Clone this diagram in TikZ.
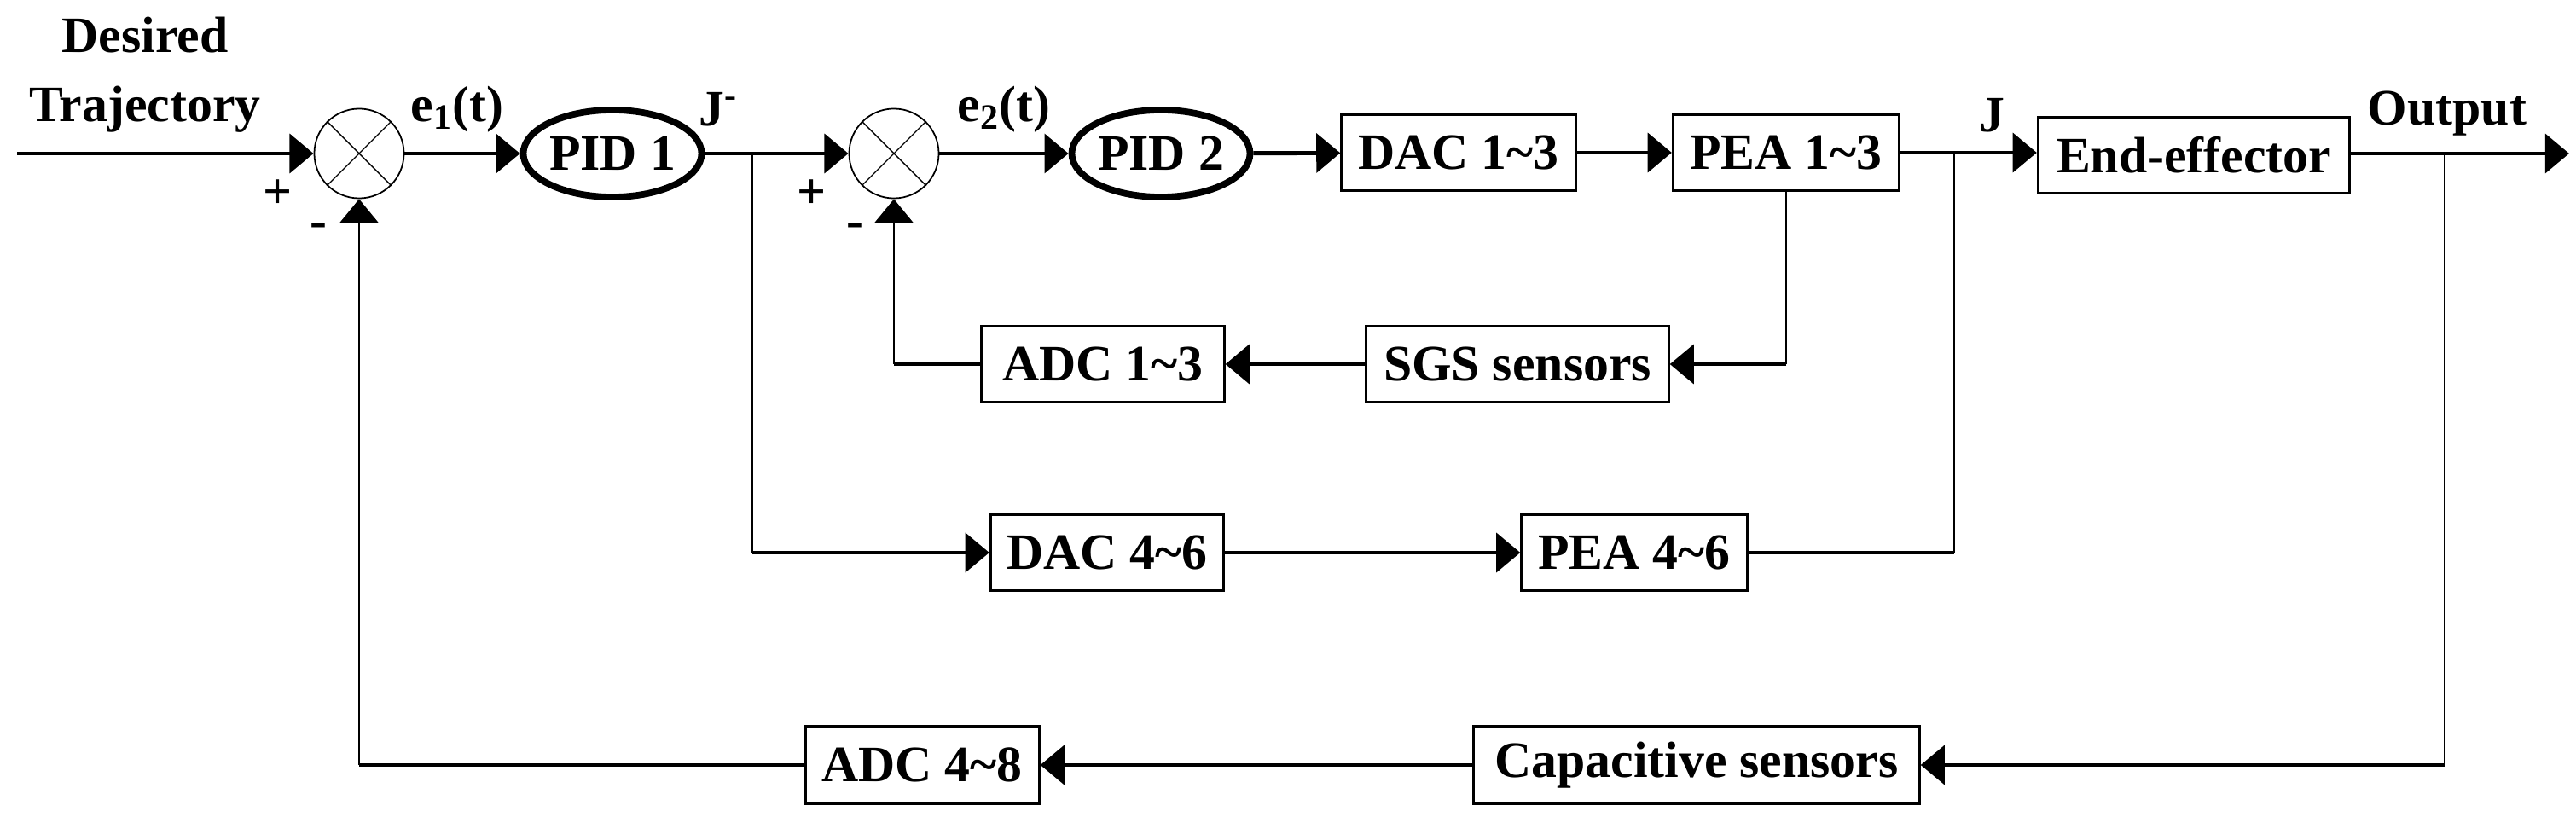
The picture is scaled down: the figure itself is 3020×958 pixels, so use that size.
\documentclass[tikz,border=0pt]{standalone}
\usepackage{fontspec}
\setmainfont{Liberation Serif}
\usetikzlibrary{arrows.meta,shapes.geometric}
\begin{document}
\begin{tikzpicture}[x=0.01cm,y=-0.01cm,font=\fontsize{17}{19}\selectfont\bfseries,
  tip/.style={-{Triangle[length=8pt,width=13pt]}},
  main/.style={line width=1.4pt,tip},
  fb/.style={line width=0.6pt,tip},
  blk/.style={draw,line width=0.9pt,rectangle,inner sep=0pt},
  sum/.style={draw,line width=0.5pt,circle,minimum size=105\pgflinewidth,inner sep=0pt,path picture={\draw[line width=0.4pt] (path picture bounding box.north west)--(path picture bounding box.south east) (path picture bounding box.north east)--(path picture bounding box.south west);}},
  pid/.style={draw,line width=2.2pt,ellipse,minimum width=5.2cm*0.34,minimum height=1.0cm,inner sep=0pt}]
\useasboundingbox (0,0) rectangle (3020,958);
\node[draw,circle,line width=0.5pt,minimum size=1.05cm,inner sep=0pt] (s1) at (421,180) {};
\draw[line width=0.4pt] (s1.45)--(s1.225) (s1.135)--(s1.315);
\node[draw,circle,line width=0.5pt,minimum size=1.05cm,inner sep=0pt] (s2) at (1048,180) {};
\draw[line width=0.4pt] (s2.45)--(s2.225) (s2.135)--(s2.315);
\node[draw,ellipse,line width=2.2pt,minimum width=1.85cm,minimum height=1.02cm,inner sep=0pt] (p1) at (718,180) {PID 1};
\node[draw,ellipse,line width=2.2pt,minimum width=1.65cm,minimum height=1.02cm,inner sep=0pt] (p2) at (1361,180) {PID 2};
\node[blk,minimum width=2.74cm,minimum height=0.89cm] (dac1) at (1710,179) {DAC 1\textasciitilde3};
\node[blk,minimum width=2.65cm,minimum height=0.89cm] (pea1) at (2094,179) {PEA 1\textasciitilde3};
\node[blk,minimum width=3.65cm,minimum height=0.89cm] (ee) at (2572,182) {End-effector};
\node[blk,minimum width=3.54cm,minimum height=0.89cm] (sgs) at (1779,427) {SGS sensors};
\node[blk,minimum width=2.84cm,minimum height=0.89cm] (adc1) at (1293,427) {ADC 1\textasciitilde3};
\node[blk,minimum width=2.73cm,minimum height=0.89cm] (dac4) at (1298,648) {DAC 4\textasciitilde6};
\node[blk,minimum width=2.64cm,minimum height=0.89cm] (pea4) at (1916,648) {PEA 4\textasciitilde6};
\node[blk,minimum width=2.74cm,minimum height=0.9cm] (adc4) at (1081,897) {ADC 4\textasciitilde8};
\node[blk,minimum width=5.22cm,minimum height=0.9cm] (cap) at (1989,897) {Capacitive sensors};
\coordinate (in) at (20,180);
\coordinate (bj1) at (882,180);
\coordinate (bj) at (2291,180);
\coordinate (bo) at (2866,180);
\coordinate (out) at (3012,180);
\coordinate (bpea) at (2094,427);
\draw[main] (in) -- (s1);
\draw[main] (s1) -- (p1);
\draw[main] (p1) -- (s2);
\draw[main] (s2) -- (p2);
\draw[main] (p2) -- (dac1);
\draw[main] (dac1) -- (pea1);
\draw[main] (pea1.east) -- (ee.west|-pea1.east);
\draw[main] (ee.east|-bo) -- (out);
\draw[line width=0.6pt] (pea1.south) -- (bpea);
\draw[main] (bpea) -- (sgs);
\draw[main] (sgs) -- (adc1);
\draw[line width=1.4pt] (adc1.west) -- (s2.south|-adc1.west);
\draw[fb] (s2.south|-adc1.west) -- (s2.south);
\draw[line width=0.6pt] (bj1) -- (bj1|-dac4.west);
\draw[main] (bj1|-dac4.west) -- (dac4);
\draw[main] (dac4) -- (pea4);
\draw[line width=1.4pt] (pea4.east) -- (bj|-pea4.east);
\draw[line width=0.6pt] (bj|-pea4.east) -- (bj);
\draw[line width=0.6pt] (bo) -- (bo|-cap.east);
\draw[main] (bo|-cap.east) -- (cap);
\draw[main] (cap) -- (adc4);
\draw[line width=1.4pt] (adc4.west) -- (s1.south|-adc4.west);
\draw[fb] (s1.south|-adc4.west) -- (s1.south);
\node[align=center] (dt) at (170,88) {Desired\\[4pt]Trajectory};
\node (e1) at (536,128) {e\textsubscript{1}(t)};
\node (e2) at (1177,128) {e\textsubscript{2}(t)};
\node (jm) at (842,128) {J\textsuperscript{-}};
\node (jj) at (2335,135) {J};
\node (op) at (2869,133) {Output};
\node (pl1) at (326,228) {+};
\node (mi1) at (373,270) {-};
\node (pl2) at (952,228) {+};
\node (mi2) at (1002,270) {-};
\end{tikzpicture}
\end{document}
